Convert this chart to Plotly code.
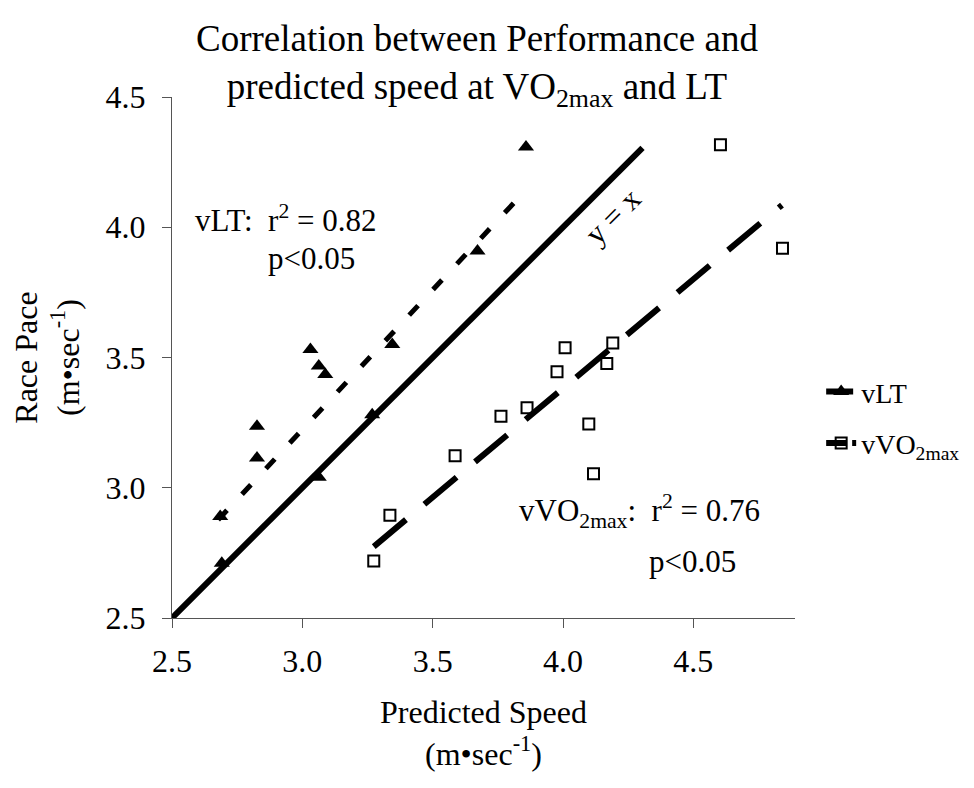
import plotly.graph_objects as go

# vLT data (Predicted speed, Race pace)
vlt_x = [2.685, 2.691, 2.826, 2.826, 3.031, 3.063, 3.088, 3.063, 3.268, 3.345, 3.672, 3.858]
vlt_y = [2.89, 2.71, 3.236, 3.114, 3.531, 3.467, 3.435, 3.04, 3.28, 3.55, 3.909, 4.308]

# vVO2max data
vvo_x = [4.008, 4.191, 3.977, 4.168, 3.862, 3.762, 4.099, 3.586, 4.117, 3.336, 3.274, 4.604, 4.842]
vvo_y = [3.537, 3.556, 3.445, 3.477, 3.307, 3.274, 3.245, 3.123, 3.054, 2.894, 2.719, 4.317, 3.919]

# trend line endpoints
vlt_fit_x = [2.677, 3.855]
vlt_fit_y = [2.877, 4.14]
vvo_fit_x = [3.274, 4.84]
vvo_fit_y = [2.774, 4.085]
ident_x = [2.5, 4.305]
ident_y = [2.5, 4.305]

x_ticks = [2.5, 3.0, 3.5, 4.0, 4.5]
y_ticks = [2.5, 3.0, 3.5, 4.0, 4.5]

FONT = "Liberation Serif, Times New Roman, serif"

fig = go.Figure()

fig.add_trace(go.Scatter(x=ident_x, y=ident_y, mode="lines",
                         line=dict(color="black", width=6), showlegend=False))
fig.add_trace(go.Scatter(x=vlt_fit_x, y=vlt_fit_y, mode="lines",
                         line=dict(color="black", width=5, dash="13px,22px"), showlegend=False))
fig.add_trace(go.Scatter(x=vvo_fit_x, y=vvo_fit_y, mode="lines",
                         line=dict(color="black", width=6, dash="42px,24px"), showlegend=False))

fig.add_trace(go.Scatter(x=vlt_x, y=vlt_y, mode="markers",
                         marker=dict(symbol="triangle-up", size=14, color="black"),
                         showlegend=False))
fig.add_trace(go.Scatter(x=vvo_x, y=vvo_y, mode="markers",
                         marker=dict(symbol="square-open", size=11, color="black",
                                     line=dict(width=2, color="black")),
                         showlegend=False))

# legend-only entries
fig.add_trace(go.Scatter(x=[None], y=[None], mode="lines+markers", name="vLT",
                         legendgroup="a",
                         line=dict(color="black", width=6, dash="12px,3px"),
                         marker=dict(symbol="triangle-up", size=14, color="black")))
fig.add_trace(go.Scatter(x=[None], y=[None], mode="lines+markers", name="vVO<sub>2max</sub>",
                         legendgroup="b",
                         line=dict(color="black", width=6, dash="20px,6px"),
                         marker=dict(symbol="square-open", size=11, color="black",
                                     line=dict(width=2, color="black"))))

axis_common = dict(
    showline=True, linecolor="#555", linewidth=1,
    ticks="outside", ticklen=9, tickcolor="#555", tickwidth=1,
    showgrid=False, zeroline=False,
    tickformat=".1f",
    tickfont=dict(family=FONT, size=32, color="black"),
)

fig.update_layout(
    width=974, height=788,
    paper_bgcolor="white", plot_bgcolor="white",
    margin=dict(l=164, r=187, t=89, b=178),
    font=dict(family=FONT, color="black"),
    title=dict(
        text="Correlation between Performance and<br>predicted speed at VO<sub>2max</sub> and LT",
        x=0.4815, xanchor="center", y=1 - 43 / 788, yanchor="middle",
        font=dict(family=FONT, size=37, color="black"),
    ),
    xaxis=dict(range=[2.5, 4.89], tickvals=x_ticks, ticklabelstandoff=6,
               title=dict(text="Predicted Speed<br>(m•sec<sup>-1</sup>)",
                          font=dict(family=FONT, size=32, color="black"), standoff=22),
               **axis_common),
    yaxis=dict(range=[2.5, 4.5], tickvals=y_ticks, ticklabelstandoff=10,
               title=dict(text="Race Pace<br>(m•sec<sup>-1</sup>)",
                          font=dict(family=FONT, size=32, color="black"), standoff=22),
               **axis_common),
    legend=dict(x=1.042, xanchor="left", y=0.385, yanchor="middle",
                font=dict(family=FONT, size=28, color="black"),
                bgcolor="rgba(0,0,0,0)", tracegroupgap=12),
    annotations=[
        dict(x=2.58, y=4.035, xref="x", yref="y", xanchor="left", yanchor="middle",
             text="vLT:  r<sup>2</sup> = 0.82", showarrow=False,
             font=dict(family=FONT, size=31, color="black")),
        dict(x=2.862, y=3.88, xref="x", yref="y", xanchor="left", yanchor="middle",
             text="p<0.05", showarrow=False,
             font=dict(family=FONT, size=31, color="black")),
        dict(x=3.822, y=2.91, xref="x", yref="y", xanchor="left", yanchor="middle",
             text="vVO<sub>2max</sub>:  r<sup>2</sup> = 0.76", showarrow=False,
             font=dict(family=FONT, size=31, color="black")),
        dict(x=4.323, y=2.715, xref="x", yref="y", xanchor="left", yanchor="middle",
             text="p<0.05", showarrow=False,
             font=dict(family=FONT, size=31, color="black")),
        dict(x=4.19, y=4.04, xref="x", yref="y", xanchor="center", yanchor="middle",
             text="y = x", showarrow=False, textangle=-45,
             font=dict(family=FONT, size=31, color="black")),
    ],
)

fig.write_html("out.html")
